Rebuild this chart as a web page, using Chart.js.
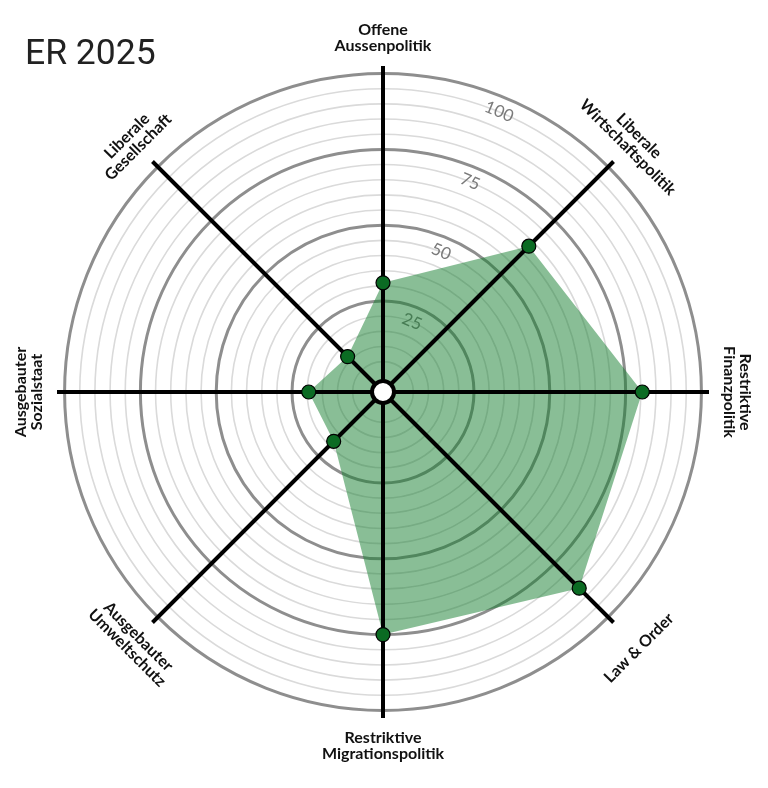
<!DOCTYPE html>
<html>
<head>
<meta charset="utf-8">
<script src="https://cdn.jsdelivr.net/npm/chart.js@4/dist/chart.umd.min.js"></script>
<style>
  html, body { margin: 0; padding: 0; background: #ffffff; }
  #wrap { position: relative; width: 768px; height: 788px; }
  canvas { display: block; }
</style>
</head>
<body>
<div id="wrap"><canvas id="c" width="768" height="788"></canvas></div>
<script>
const chartTitle = 'ER 2025';
const categories = [
  ['Offene', 'Aussenpolitik'],
  ['Liberale', 'Wirtschaftspolitik'],
  ['Restriktive', 'Finanzpolitik'],
  ['Law & Order'],
  ['Restriktive', 'Migrationspolitik'],
  ['Ausgebauter', 'Umweltschutz'],
  ['Ausgebauter', 'Sozialstaat'],
  ['Liberale', 'Gesellschaft']
];
const values = [31, 63, 80.5, 86.5, 75, 18, 19.5, 11.5];
const tickLabels = [25, 50, 75, 100];

const LABEL_FONT = 'bold 16px Lato';
const LINE_H = 16;

const decoPlugin = {
  id: 'deco',
  beforeDatasetsDraw(chart) {
    const s = chart.scales.r;
    const ctx = chart.ctx;
    const a = Math.PI / 8;
    ctx.save();
    ctx.fillStyle = '#7a7a7a';
    ctx.font = '17px Lato';
    ctx.textAlign = 'center';
    ctx.textBaseline = 'middle';
    tickLabels.forEach(v => {
      const d = s.getDistanceFromCenterForValue(v) - 15;
      ctx.save();
      ctx.translate(s.xCenter + d * Math.sin(a), s.yCenter - d * Math.cos(a));
      ctx.rotate(a);
      ctx.fillText(String(v), 0, 0);
      ctx.restore();
    });
    ctx.restore();
  },
  afterDatasetDraw(chart, args) {
    if (args.index !== 1) return;
    const s = chart.scales.r;
    const ctx = chart.ctx;
    ctx.save();
    ctx.strokeStyle = '#000000';
    ctx.lineWidth = 4;
    for (let i = 0; i < categories.length; i++) {
      const p = s.getPointPosition(i, s.drawingArea);
      ctx.beginPath();
      ctx.moveTo(s.xCenter, s.yCenter);
      ctx.lineTo(p.x, p.y);
      ctx.stroke();
    }
    ctx.restore();
  },
  afterDatasetsDraw(chart) {
    const s = chart.scales.r;
    const ctx = chart.ctx;
    ctx.save();
    ctx.beginPath();
    ctx.arc(s.xCenter, s.yCenter, 11, 0, Math.PI * 2);
    ctx.fillStyle = '#ffffff';
    ctx.fill();
    ctx.lineWidth = 4;
    ctx.strokeStyle = '#000000';
    ctx.stroke();
    ctx.restore();
  },
  afterDraw(chart) {
    const s = chart.scales.r;
    const ctx = chart.ctx;
    ctx.save();
    // title
    ctx.fillStyle = '#222222';
    ctx.font = '35.5px Roboto';
    ctx.textAlign = 'left';
    ctx.textBaseline = 'alphabetic';
    ctx.fillText(chartTitle, 25, 64);
    // point labels
    ctx.fillStyle = '#111111';
    ctx.font = LABEL_FONT;
    ctx.textAlign = 'center';
    ctx.textBaseline = 'middle';
    const n = categories.length;
    for (let i = 0; i < n; i++) {
      let phi = i * 2 * Math.PI / n;
      if (phi > Math.PI * 1.25) phi -= 2 * Math.PI;
      const lines = categories[i];
      const bottom = Math.abs(phi) > Math.PI / 2 + 0.01;
      const rot = bottom ? phi - Math.PI : phi;
      const D = lines.length > 1 ? 354 : 362;
      const x = s.xCenter + D * Math.sin(phi);
      const y = s.yCenter - D * Math.cos(phi);
      ctx.save();
      ctx.translate(x, y);
      ctx.rotate(rot);
      lines.forEach((t, k) => {
        ctx.fillText(t, 0, (k - (lines.length - 1) / 2) * LINE_H);
      });
      ctx.restore();
    }
    ctx.restore();
  }
};

new Chart(document.getElementById('c'), {
  type: 'radar',
  data: {
    labels: categories,
    datasets: [
      {
        data: values,
        showLine: false,
        fill: false,
        borderWidth: 0,
        pointRadius: 7,
        pointBackgroundColor: '#0b6b23',
        pointBorderColor: '#000000',
        pointBorderWidth: 1.2
      },
      {
        data: values,
        fill: 'start',
        backgroundColor: 'rgba(20,125,45,0.5)',
        borderWidth: 0,
        borderColor: 'rgba(0,0,0,0)',
        pointRadius: 0
      }
    ]
  },
  options: {
    responsive: false,
    animation: false,
    layout: { padding: { left: 57, right: 59, top: 66, bottom: 70 } },
    plugins: {
      legend: { display: false },
      tooltip: { enabled: false },
      title: { display: false }
    },
    scales: {
      r: {
        min: -5,
        max: 102.5,
        ticks: { display: false, stepSize: 5 },
        pointLabels: { display: false },
        angleLines: { display: false },
        grid: {
          circular: true,
          color: (c) => {
            const v = c.tick ? c.tick.value : 0;
            if (v <= 0 || v > 100) return 'rgba(0,0,0,0)';
            return v % 25 === 0 ? '#8e8e8e' : '#dadada';
          },
          lineWidth: (c) => {
            const v = c.tick ? c.tick.value : 0;
            return (v % 25 === 0 && v > 0) ? 3 : 1.6;
          }
        }
      }
    }
  },
  plugins: [decoPlugin]
});
</script>
</body>
</html>
